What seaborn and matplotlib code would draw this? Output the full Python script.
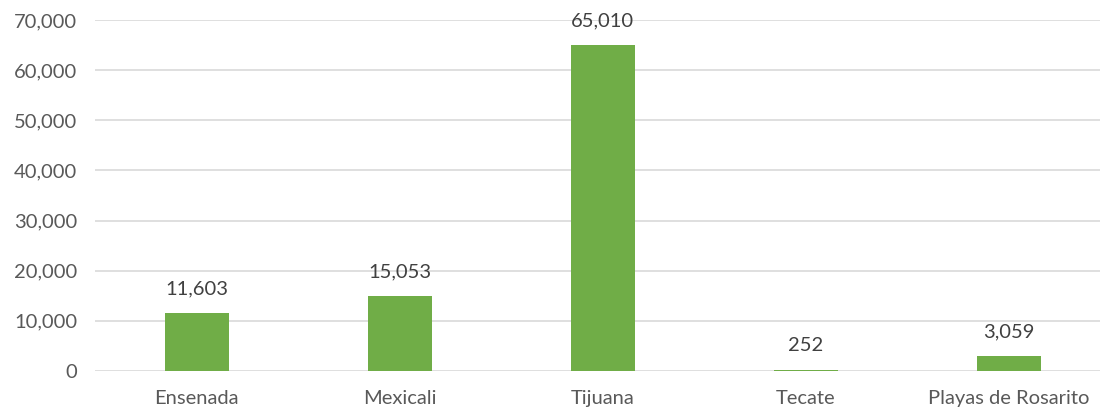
import matplotlib
matplotlib.use("Agg")
import matplotlib.pyplot as plt
import matplotlib.ticker as mticker
import seaborn as sns
import pandas as pd

# data
municipios = ["Ensenada", "Mexicali", "Tijuana", "Tecate", "Playas de Rosarito"]
valores = [11603, 15053, 65010, 252, 3059]
y_ticks = [0, 10000, 20000, 30000, 40000, 50000, 60000, 70000]

GREEN = "#70AD47"
TICK_GRAY = "#595959"
LABEL_GRAY = "#404040"

sns.set_theme(style="white")
plt.rcParams["font.family"] = ["Lato", "DejaVu Sans"]

df = pd.DataFrame({"municipio": municipios, "valor": valores})

fig = plt.figure(figsize=(11, 4.15), dpi=100)
ax = fig.add_axes([0.0864, 0.106, 0.923, 0.846])

sns.barplot(data=df, x="municipio", y="valor", color=GREEN,
            width=0.315, saturation=1, linewidth=0, ax=ax, zorder=3)

ax.set_ylim(0, 70000)
ax.set_xlim(-0.5, len(municipios) - 0.5)
ax.set_yticks(y_ticks)
ax.yaxis.set_major_formatter(mticker.FuncFormatter(lambda v, p: f"{int(v):,}"))
ax.grid(axis="y", color="#D9D9D9", linewidth=1.2, zorder=0)
ax.set_axisbelow(True)
ax.set_xlabel("")
ax.set_ylabel("")

for s in ["top", "right", "left", "bottom"]:
    ax.spines[s].set_visible(False)

ax.tick_params(axis="both", length=0, labelsize=14.5, colors=TICK_GRAY)
ax.tick_params(axis="y", pad=13)
ax.tick_params(axis="x", pad=14)

for i, v in enumerate(valores):
    ax.annotate(f"{v:,}", (i, v), xytext=(0, 11), textcoords="offset points",
                ha="center", va="bottom", fontsize=14.5, color=LABEL_GRAY)

fig.savefig("out.png", dpi=100)
